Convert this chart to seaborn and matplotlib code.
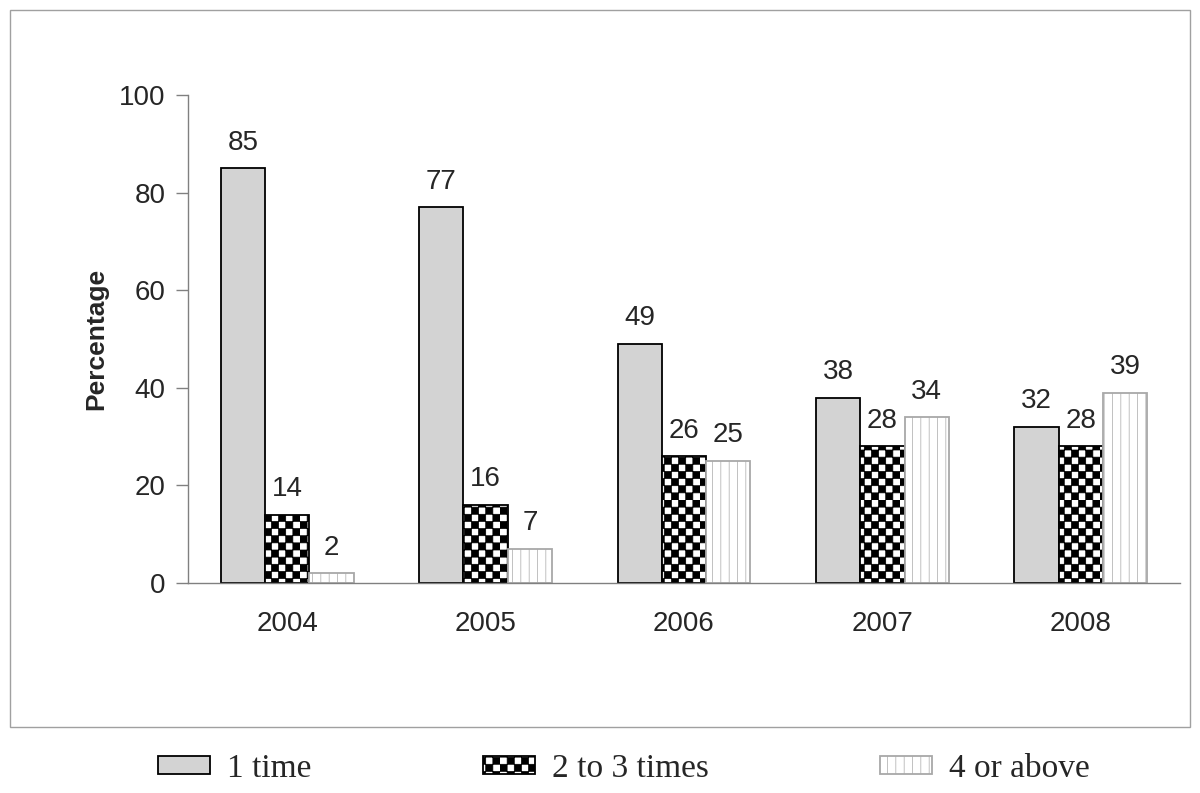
import warnings
import numpy as np
import pandas as pd
import matplotlib
matplotlib.use('Agg')
import matplotlib.pyplot as plt
from matplotlib import hatch as mhatch
from matplotlib.path import Path
from matplotlib.patches import Rectangle
import seaborn as sns

warnings.filterwarnings('ignore')

# Dados do gráfico
anos = ['2004', '2005', '2006', '2007', '2008']
series = ['1 time', '2 to 3 times', '4 or above']
uma_vez = [85, 77, 49, 38, 32]
duas_tres_vezes = [14, 16, 26, 28, 28]
quatro_ou_mais = [2, 7, 25, 34, 39]


# Hachura em xadrez (não existe no matplotlib, então registramos uma)
class XadrezHatch(mhatch.HatchPatternBase):
    def __init__(self, hatch, density):
        self.n = 14 if 'c' in hatch else 0
        self.num_vertices = (self.n * self.n // 2) * 5

    def set_vertices_and_codes(self, vertices, codes):
        s = 1.0 / self.n
        k = 0
        for i in range(self.n):
            for j in range(self.n):
                if (i + j) % 2:
                    continue
                x0, y0 = i * s, j * s
                vertices[k:k + 5] = [(x0, y0), (x0 + s, y0), (x0 + s, y0 + s), (x0, y0 + s), (x0, y0)]
                codes[k] = Path.MOVETO
                codes[k + 1:k + 4] = Path.LINETO
                codes[k + 4] = Path.CLOSEPOLY
                k += 5


mhatch._hatch_types.append(XadrezHatch)

df = pd.DataFrame({
    'Ano': anos * 3,
    'Serie': [series[0]] * 5 + [series[1]] * 5 + [series[2]] * 5,
    'Percentual': uma_vez + duas_tres_vezes + quatro_ou_mais,
})

sns.set_style('white')
plt.rcParams['font.family'] = ['Liberation Sans', 'DejaVu Sans']
plt.rcParams['hatch.linewidth'] = 0.5

fig = plt.figure(figsize=(12, 7.93), dpi=100)
ax = fig.add_axes([188 / 1200, 1 - 583 / 793, (1180 - 188) / 1200, (583 - 95) / 793])

sns.barplot(data=df, x='Ano', y='Percentual', hue='Serie', hue_order=series,
            palette=['#d3d3d3', 'white', 'white'], width=0.67, legend=False,
            saturation=1, ax=ax)

estilos = [
    dict(edgecolor='black', hatch=None, lw=1.3),
    dict(edgecolor='black', hatch='c', lw=1.3),
    dict(edgecolor='#a8a8a8', hatch='||', lw=1.3),
]
for cont, est in zip(ax.containers, estilos):
    for barra in cont:
        barra.set_edgecolor(est['edgecolor'])
        barra.set_linewidth(est['lw'])
        if est['hatch']:
            barra.set_hatch(est['hatch'])
    ax.bar_label(cont, fmt='%.0f', padding=9, fontsize=20)

# Eixos
ax.set_ylim(0, 100)
ax.set_xlim(-0.5, 4.5)
ax.set_yticks([0, 20, 40, 60, 80, 100])
ax.set_xticks(range(5))
ax.set_xticks(np.arange(-0.5, 5, 1), minor=True)
ax.tick_params(axis='x', which='major', length=0, labelsize=20, pad=20)
ax.tick_params(axis='x', which='minor', length=9, color='#808080', width=1, direction='out')
ax.tick_params(axis='y', length=9, color='#808080', width=1, direction='out', labelsize=20, pad=7,
               left=True)
ax.set_xlabel('')
ax.set_ylabel('Percentage', fontsize=19, fontweight='bold', labelpad=8)
sns.despine(ax=ax)
for lado in ['left', 'bottom']:
    ax.spines[lado].set_color('#808080')
    ax.spines[lado].set_linewidth(1)

# Moldura cinza em volta do gráfico
fig.patches.append(Rectangle((10 / 1200, 1 - 727 / 793), 1180 / 1200, 717 / 793,
                             transform=fig.transFigure, fill=False,
                             edgecolor='#a0a0a0', lw=1))

# Legenda abaixo da moldura
handles = [cont.patches[0] for cont in ax.containers]
fig.legend(handles, series, loc='center', bbox_to_anchor=(0.52, 0.031), ncol=3,
           frameon=False, prop={'family': 'Liberation Serif', 'size': 24},
           handlelength=1.56, handleheight=0.45, columnspacing=5.15, handletextpad=0.5)

plt.savefig('out.png', dpi=100)
